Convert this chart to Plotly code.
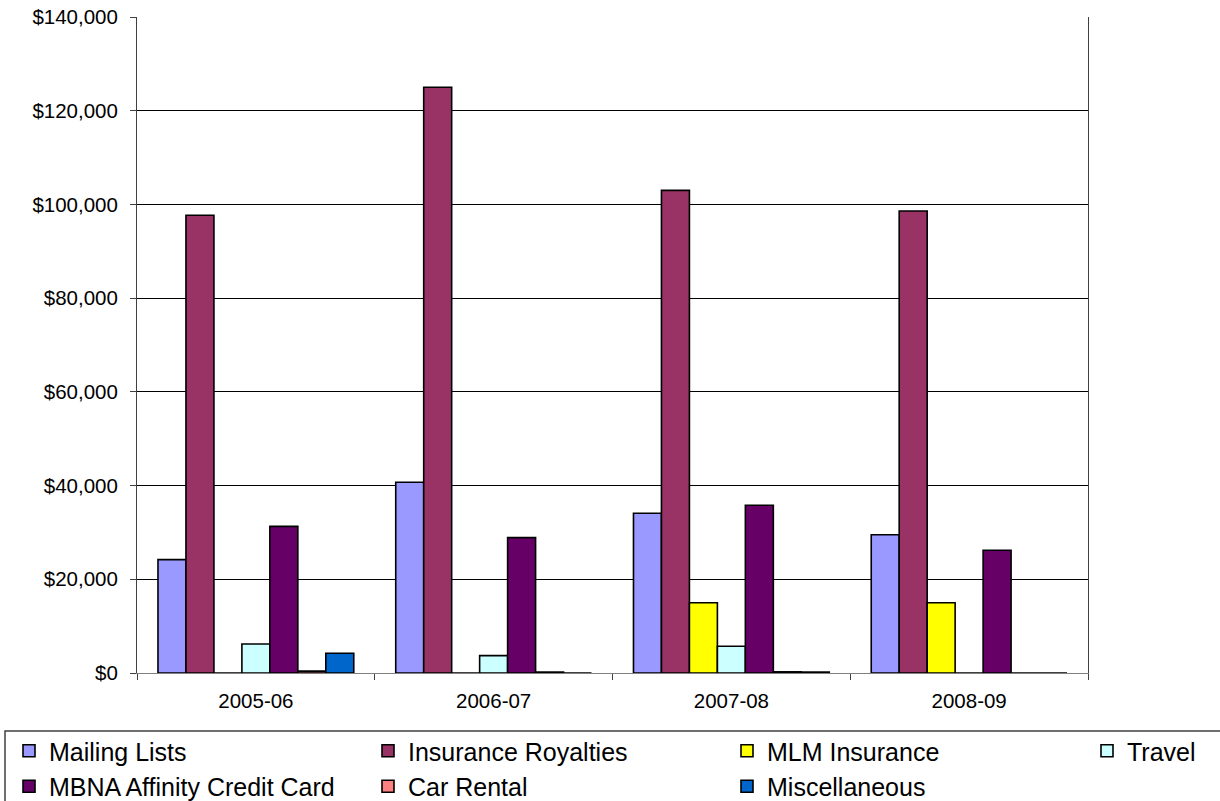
import plotly.graph_objects as go

# Revenue by fiscal year
categories = ["2005-06", "2006-07", "2007-08", "2008-09"]
mailing_lists = [24200, 40700, 34100, 29500]
insurance_royalties = [97700, 125000, 103000, 98600]
mlm_insurance = [0, 0, 15000, 15000]
travel = [6200, 3700, 5700, 0]
mbna_card = [31300, 28900, 35800, 26200]
car_rental = [400, 200, 250, 0]
miscellaneous = [4200, 0, 200, 0]

y_ticks = [0, 20000, 40000, 60000, 80000, 100000, 120000, 140000]

series = [
    ("Mailing Lists", mailing_lists, "#9999FF", "legend"),
    ("Insurance Royalties", insurance_royalties, "#993366", "legend2"),
    ("MLM Insurance", mlm_insurance, "#FFFF00", "legend3"),
    ("Travel", travel, "#CCFFFF", "legend4"),
    ("MBNA Affinity Credit Card", mbna_card, "#660066", "legend"),
    ("Car Rental", car_rental, "#FF8080", "legend2"),
    ("Miscellaneous", miscellaneous, "#0066CC", "legend3"),
]

W, H = 1220, 801
ML, MR, MT, MB = 137, 132, 17, 128
pw = W - ML - MR
ph = H - MT - MB
font_family = "Arial, Liberation Sans, sans-serif"


def px_x(x):
    return (x - ML) / pw


def px_y(y):
    return (H - MB - y) / ph


fig = go.Figure()
for name, vals, color, leg in series:
    fig.add_trace(go.Bar(
        x=categories, y=vals, name=name,
        marker=dict(color=color, line=dict(color="#000000", width=1.6)),
        legend=leg,
    ))

legend_style = dict(
    orientation="v", xref="paper", yref="paper",
    yanchor="top", xanchor="left", y=px_y(728),
    bgcolor="rgba(0,0,0,0)", borderwidth=0,
    font=dict(family=font_family, size=25, color="#000000"),
    traceorder="normal",
)
col_x = [9, 368, 727, 1087]

fig.update_layout(
    width=W, height=H,
    margin=dict(l=ML, r=MR, t=MT, b=MB, autoexpand=False),
    paper_bgcolor="#FFFFFF", plot_bgcolor="#FFFFFF",
    barmode="group", bargap=1.5 / 8.5, bargroupgap=0,
    font=dict(family=font_family, size=20.5, color="#000000"),
    showlegend=True,
    legend=dict(legend_style, x=px_x(col_x[0])),
    legend2=dict(legend_style, x=px_x(col_x[1])),
    legend3=dict(legend_style, x=px_x(col_x[2])),
    legend4=dict(legend_style, x=px_x(col_x[3])),
    xaxis=dict(
        type="category", showgrid=False,
        showline=True, linecolor="#808080", linewidth=1,
        ticks="outside", tickson="boundaries", ticklen=6, tickcolor="#404040",
        tickfont=dict(size=20.5), ticklabelstandoff=9, tickangle=0,
    ),
    yaxis=dict(
        range=[0, 140000], tickvals=y_ticks, tickformat="$,.0f",
        showgrid=True, gridcolor="#000000", gridwidth=1,
        showline=True, linecolor="#404040", linewidth=1, mirror=True,
        ticks="outside", ticklen=6, tickcolor="#404040",
        tickfont=dict(size=20.5), ticklabelstandoff=8,
        zeroline=False,
    ),
    shapes=[
        # frame around the legend rows
        dict(type="rect", xref="paper", yref="paper",
             x0=px_x(5), x1=px_x(1240),
             y0=px_y(815), y1=px_y(731),
             line=dict(color="#404040", width=1.5), fillcolor="rgba(0,0,0,0)"),
    ],
)

fig.write_html("out.html")
